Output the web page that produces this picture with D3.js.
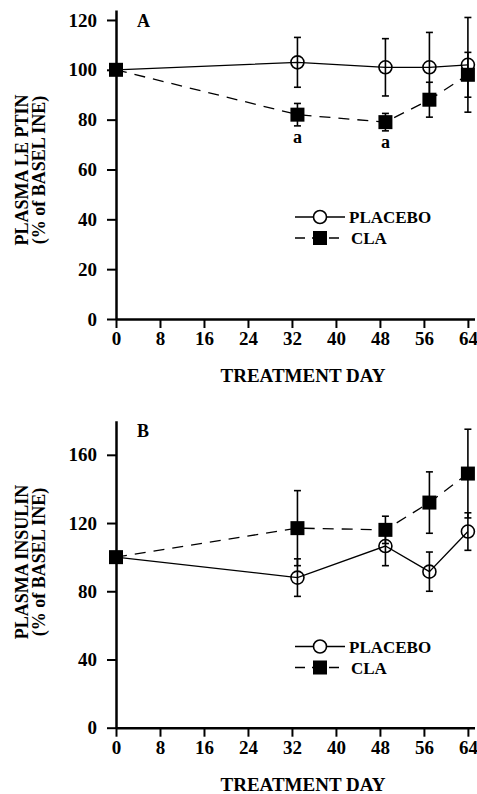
<!DOCTYPE html>
<html>
<head>
<meta charset="utf-8">
<script src="https://cdn.jsdelivr.net/npm/d3@7/dist/d3.min.js"></script>
<style>
  body { margin: 0; background: #fff; }
  svg text { font-family: "Liberation Serif", "Times New Roman", serif; font-weight: bold; fill: #000; }
</style>
</head>
<body>
<svg id="chart" width="477" height="794"></svg>
<script>
var days = [0, 33, 49, 57, 64];
var xTicks = [0, 8, 16, 24, 32, 40, 48, 56, 64];

var leptinPlacebo    = [100, 103, 101, 101, 102];
var leptinPlaceboErr = [0, 10, 11.5, 14, 19];
var leptinCLA        = [100, 82, 79, 88, 98];
var leptinCLAErr     = [0, 4.5, 3.5, 7, 9];
var leptinTicks      = [0, 20, 40, 60, 80, 100, 120];

var insulinPlacebo    = [100, 88, 106.5, 91.5, 115];
var insulinPlaceboErr = [0, 11, 11.5, 11.5, 11];
var insulinCLA        = [100, 117, 116, 132, 149];
var insulinCLAErr     = [0, 22, 8, 18, 26];
var insulinTicks      = [0, 40, 80, 120, 160];

var svg = d3.select("#chart");

function drawPanel(cfg) {
  var x = d3.scaleLinear().domain([0, 65.2]).range([116, 474.5]);
  var y = d3.scaleLinear().domain([0, cfg.yMax]).range([cfg.bottom, cfg.top]);

  var g = svg.append("g");

  var xAxis = g.append("g")
      .attr("transform", "translate(0," + cfg.bottom + ")")
      .call(d3.axisBottom(x).tickValues(xTicks).tickSize(9).tickSizeOuter(0).tickPadding(4));
  var yAxis = g.append("g")
      .attr("transform", "translate(116,0)")
      .call(d3.axisLeft(y).tickValues(cfg.ticks).tickSize(9).tickSizeOuter(0).tickPadding(10));

  [xAxis, yAxis].forEach(function(a) {
    a.select(".domain").attr("stroke", "#000").attr("stroke-width", 2.5);
    a.selectAll(".tick line").attr("stroke", "#000").attr("stroke-width", 2);
    a.selectAll(".tick text").style("font-size", "19px").attr("font-family", null);
  });

  var series = [
    {vals: cfg.placebo, err: cfg.placeboErr, dash: null},
    {vals: cfg.cla, err: cfg.claErr, dash: "11,8"}
  ];

  var line = d3.line()
      .x(function(d, i) { return x(days[i]); })
      .y(function(d) { return y(d); });

  series.forEach(function(s) {
    g.append("path")
      .datum(s.vals)
      .attr("d", line)
      .attr("fill", "none")
      .attr("stroke", "#000")
      .attr("stroke-width", 1.3)
      .attr("stroke-dasharray", s.dash);

    // error bars
    var eb = g.selectAll(null)
      .data(s.vals.map(function(v, i) { return {d: days[i], v: v, e: s.err[i]}; })
                  .filter(function(p) { return p.e > 0; }))
      .enter().append("g");
    eb.append("line")
      .attr("x1", function(p) { return x(p.d); })
      .attr("x2", function(p) { return x(p.d); })
      .attr("y1", function(p) { return y(p.v - p.e); })
      .attr("y2", function(p) { return y(p.v + p.e); })
      .attr("stroke", "#000").attr("stroke-width", 1.6);
    [-1, 1].forEach(function(sg) {
      eb.append("line")
        .attr("x1", function(p) { return x(p.d) - 3.5; })
        .attr("x2", function(p) { return x(p.d) + 3.5; })
        .attr("y1", function(p) { return y(p.v + sg * p.e); })
        .attr("y2", function(p) { return y(p.v + sg * p.e); })
        .attr("stroke", "#000").attr("stroke-width", 1.6);
    });
  });

  // markers: CLA squares then placebo circles
  g.selectAll(null)
    .data(cfg.cla)
    .enter().append("rect")
    .attr("x", function(d, i) { return x(days[i]) - 7; })
    .attr("y", function(d) { return y(d) - 7; })
    .attr("width", 14).attr("height", 14)
    .attr("fill", "#000");

  g.selectAll(null)
    .data(cfg.placebo)
    .enter().append("circle")
    .attr("cx", function(d, i) { return x(days[i]); })
    .attr("cy", function(d) { return y(d); })
    .attr("r", 6.5)
    .attr("fill", "none")
    .attr("stroke", "#000")
    .attr("stroke-width", 1.6)
    .style("display", function(d, i) { return i === 0 ? "none" : null; });

  // legend
  var ly1 = cfg.legendY, ly2 = cfg.legendY + 21;
  g.append("line").attr("x1", 295).attr("x2", 345).attr("y1", ly1).attr("y2", ly1)
    .attr("stroke", "#000").attr("stroke-width", 1.3);
  g.append("circle").attr("cx", 320).attr("cy", ly1).attr("r", 6.5)
    .attr("fill", "#fff").attr("stroke", "#000").attr("stroke-width", 1.6);
  g.append("text").attr("x", 349).attr("y", ly1 + 6).style("font-size", "17px").text("PLACEBO");

  g.append("line").attr("x1", 295).attr("x2", 345).attr("y1", ly2).attr("y2", ly2)
    .attr("stroke", "#000").attr("stroke-width", 1.3).attr("stroke-dasharray", "10,7");
  g.append("rect").attr("x", 313).attr("y", ly2 - 7).attr("width", 14).attr("height", 14).attr("fill", "#000");
  g.append("text").attr("x", 351).attr("y", ly2 + 6).style("font-size", "17px").text("CLA");

  // panel letter
  g.append("text").attr("x", 137).attr("y", cfg.top + cfg.letterDy).style("font-size", "18px").text(cfg.letter);

  // axis titles
  g.append("text")
    .attr("x", 303).attr("y", cfg.bottom + 63)
    .attr("text-anchor", "middle")
    .style("font-size", "19px")
    .text("TREATMENT DAY");

  var yc = cfg.labelY;
  g.append("text")
    .attr("transform", "translate(28," + yc + ") rotate(-90)")
    .attr("text-anchor", "middle")
    .style("font-size", "18px")
    .text(cfg.ylabel);
  g.append("text")
    .attr("transform", "translate(45," + yc + ") rotate(-90)")
    .attr("text-anchor", "middle")
    .style("font-size", "18px")
    .text("(% of BASEL INE)");

  return {x: x, y: y, g: g};
}

var pA = drawPanel({
  top: 10, bottom: 319, yMax: 124, ticks: leptinTicks,
  placebo: leptinPlacebo, placeboErr: leptinPlaceboErr,
  cla: leptinCLA, claErr: leptinCLAErr,
  legendY: 217, letter: "A", letterDy: 17,
  ylabel: "PLASMA LE PTIN", labelY: 170
});

// significance markers under CLA points
[1, 2].forEach(function(i) {
  pA.g.append("text")
    .attr("x", pA.x(days[i]))
    .attr("y", pA.y(leptinCLA[i] - leptinCLAErr[i]) + 17)
    .attr("text-anchor", "middle")
    .style("font-size", "18px")
    .text("a");
});

drawPanel({
  top: 420.7, bottom: 727.7, yMax: 180, ticks: insulinTicks,
  placebo: insulinPlacebo, placeboErr: insulinPlaceboErr,
  cla: insulinCLA, claErr: insulinCLAErr,
  legendY: 646.5, letter: "B", letterDy: 16,
  ylabel: "PLASMA INSULIN", labelY: 562
});
</script>
</body>
</html>
